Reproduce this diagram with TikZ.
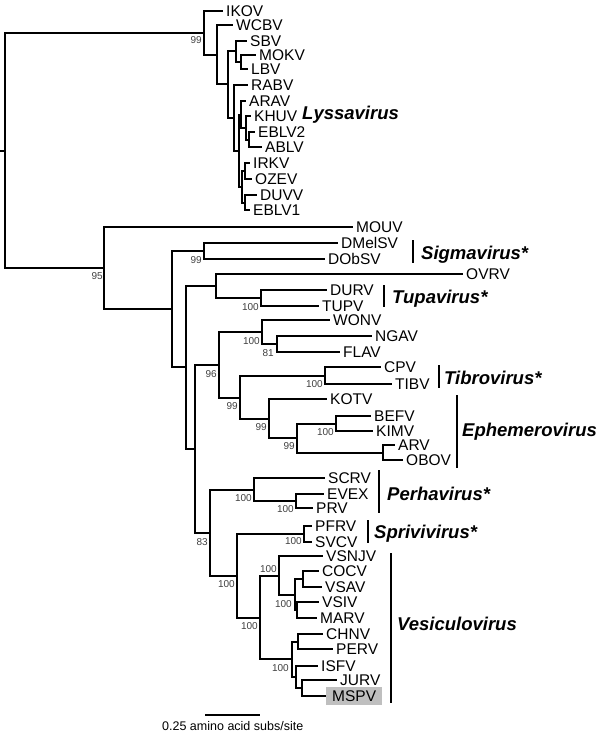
\documentclass[tikz,border=0pt]{standalone}
\usepackage{fontspec}
\setmainfont{Liberation Sans}
\begin{document}
\begin{tikzpicture}[x=1pt,y=-1pt,
  br/.style={line width=2pt},
  barline/.style={line width=2pt},
  leaf/.style={anchor=west, inner xsep=3pt, inner ysep=0pt, font=\fontsize{15.5}{15.5}\selectfont, text height=11.1pt, text depth=0pt},
  boot/.style={anchor=east, inner sep=0pt, font=\fontsize{10}{10}\selectfont, text=black!75, text height=7.2pt, text depth=0pt},
  genus/.style={anchor=west, inner sep=0pt, font=\fontsize{18.5}{18.5}\selectfont\bfseries\itshape, text height=13.2pt, text depth=0pt},
  scaletext/.style={anchor=west, inner sep=0pt, font=\fontsize{12.5}{12.5}\selectfont}
]
\useasboundingbox[fill=white] (0,0) rectangle (600,732);

% ---------- internal nodes ----------
\coordinate (rt) at (0,151);
\coordinate (R0) at (5,151);
% Lyssavirus
\coordinate (A) at (204,32.75);
\coordinate (B) at (217,54.5);
\coordinate (C) at (228,84);
\coordinate (E) at (236,50.5);
\coordinate (F) at (241,61.5);
\coordinate (D) at (234,118);
\coordinate (G) at (239,151);
\coordinate (H) at (241,114.5);
\coordinate (J) at (246,128);
\coordinate (K) at (249,139.5);
\coordinate (I) at (242,187);
\coordinate (L) at (245,171);
\coordinate (M) at (245,202.5);
% rest
\coordinate (N) at (104,268);
\coordinate (P) at (172,309);
\coordinate (SG) at (204,251);
\coordinate (Q) at (186,367);
\coordinate (T) at (216,286);
\coordinate (TU) at (261,298);
\coordinate (R) at (195,448.5);
\coordinate (S) at (219,365);
\coordinate (AH) at (262,332);
\coordinate (AI) at (277,344);
\coordinate (AJ) at (240,397.5);
\coordinate (AL) at (325,375.5);
\coordinate (AK) at (269,418.5);
\coordinate (AM) at (297,438);
\coordinate (AN) at (336,423.5);
\coordinate (AO) at (383,452.5);
\coordinate (U) at (210,532.5);
\coordinate (V) at (254,489.5);
\coordinate (X) at (296,501);
\coordinate (W) at (237,575.5);
\coordinate (SP) at (304,534);
\coordinate (Y) at (260,617.5);
\coordinate (Z) at (279,575.5);
\coordinate (AB) at (295,595);
\coordinate (AC) at (303,579);
\coordinate (AD) at (297,610);
\coordinate (AA) at (292,659);
\coordinate (AE) at (298,641.5);
\coordinate (AF) at (296,677);
\coordinate (AG) at (302,688);

% ---------- leaves ----------
\node[leaf] (IKOV) at (223,11) {IKOV};
\node[leaf] (WCBV) at (233,25) {WCBV};
\node[leaf] (SBV) at (247,40.5) {SBV};
\node[leaf] (MOKV) at (256,54.5) {MOKV};
\node[leaf] (LBV) at (248,69) {LBV};
\node[leaf] (RABV) at (248,85) {RABV};
\node[leaf] (ARAV) at (246,101) {ARAV};
\node[leaf] (KHUV) at (251,116) {KHUV};
\node[leaf] (EBLV2) at (255,132) {EBLV2};
\node[leaf] (ABLV) at (262,147) {ABLV};
\node[leaf] (IRKV) at (250,163) {IRKV};
\node[leaf] (OZEV) at (252,179) {OZEV};
\node[leaf] (DUVV) at (257,195) {DUVV};
\node[leaf] (EBLV1) at (250,210) {EBLV1};

\node[leaf] (MOUV) at (353,227) {MOUV};
\node[leaf] (DMelSV) at (338,243) {DMelSV};
\node[leaf] (DObSV) at (325,259) {DObSV};
\node[leaf] (OVRV) at (463,274) {OVRV};
\node[leaf] (DURV) at (327,290) {DURV};
\node[leaf] (TUPV) at (319,306) {TUPV};
\node[leaf] (WONV) at (330,320) {WONV};
\node[leaf] (NGAV) at (372,336) {NGAV};
\node[leaf] (FLAV) at (340,352) {FLAV};
\node[leaf] (CPV) at (381,367) {CPV};
\node[leaf] (TIBV) at (392,384) {TIBV};
\node[leaf] (KOTV) at (327,399) {KOTV};
\node[leaf] (BEFV) at (371,416) {BEFV};
\node[leaf] (KIMV) at (373,431) {KIMV};
\node[leaf] (ARV) at (395,445) {ARV};
\node[leaf] (OBOV) at (403,460) {OBOV};
\node[leaf] (SCRV) at (325,478) {SCRV};
\node[leaf] (EVEX) at (324,494) {EVEX};
\node[leaf] (PRV) at (313,508) {PRV};
\node[leaf] (PFRV) at (312,526) {PFRV};
\node[leaf] (SVCV) at (312,542) {SVCV};
\node[leaf] (VSNJV) at (323,556) {VSNJV};
\node[leaf] (COCV) at (319,571) {COCV};
\node[leaf] (VSAV) at (322,587) {VSAV};
\node[leaf] (VSIV) at (319,602) {VSIV};
\node[leaf] (MARV) at (317,618) {MARV};
\node[leaf] (CHNV) at (323,634) {CHNV};
\node[leaf] (PERV) at (333,649) {PERV};
\node[leaf] (ISFV) at (318,666) {ISFV};
\node[leaf] (JURV) at (337,680) {JURV};
\node[leaf, fill=black!25, inner xsep=6pt, inner ysep=3pt] (MSPV) at (326,696) {MSPV};

% ---------- branches ----------
\draw[br] (rt) -- (R0);
\foreach \p/\c in {R0/A, R0/N,
  A/IKOV.west, A/B, B/WCBV.west, B/C, C/E, C/D, E/SBV.west, E/F,
  F/MOKV.west, F/LBV.west, D/RABV.west, D/G, G/H, G/I, H/ARAV.west, H/J,
  J/KHUV.west, J/K, K/EBLV2.west, K/ABLV.west, I/L, I/M,
  L/IRKV.west, L/OZEV.west, M/DUVV.west, M/EBLV1.west,
  N/MOUV.west, N/P, P/SG, P/Q, SG/DMelSV.west, SG/DObSV.west,
  Q/T, Q/R, T/OVRV.west, T/TU, TU/DURV.west, TU/TUPV.west,
  R/S, R/U, S/AH, S/AJ, AH/WONV.west, AH/AI, AI/NGAV.west, AI/FLAV.west,
  AJ/AL, AJ/AK, AL/CPV.west, AL/TIBV.west, AK/KOTV.west, AK/AM,
  AM/AN, AM/AO, AN/BEFV.west, AN/KIMV.west, AO/ARV.west, AO/OBOV.west,
  U/V, U/W, V/SCRV.west, V/X, X/EVEX.west, X/PRV.west,
  W/SP, W/Y, SP/PFRV.west, SP/SVCV.west,
  Y/Z, Y/AA, Z/VSNJV.west, Z/AB, AB/AC, AB/AD,
  AC/COCV.west, AC/VSAV.west, AD/VSIV.west, AD/MARV.west,
  AA/AE, AA/AF, AE/CHNV.west, AE/PERV.west, AF/ISFV.west, AF/AG,
  AG/JURV.west, AG/MSPV.west}
  \draw[br] (\p) |- (\c);

% ---------- bootstrap values ----------
\node[boot] (bA) at (202,40) {99};
\node[boot] (bN) at (103,276) {95};
\node[boot] (bSG) at (202,260) {99};
\node[boot] (bTU) at (259,307) {100};
\node[boot] (bAH) at (260,341) {100};
\node[boot] (bAI) at (274,353) {81};
\node[boot] (bS) at (217,374) {96};
\node[boot] (bAL) at (323,384) {100};
\node[boot] (bAJ) at (238,406) {99};
\node[boot] (bAK) at (267,427) {99};
\node[boot] (bAN) at (334,432) {100};
\node[boot] (bAM) at (295,446) {99};
\node[boot] (bV) at (252,498) {100};
\node[boot] (bX) at (294,509) {100};
\node[boot] (bSP) at (302,541) {100};
\node[boot] (bU) at (208,542) {83};
\node[boot] (bZ) at (277,569) {100};
\node[boot] (bW) at (235,584) {100};
\node[boot] (bAB) at (292,604) {100};
\node[boot] (bY) at (258,626) {100};
\node[boot] (bAA) at (289,668) {100};

% ---------- genus labels and bars ----------
\node[genus] (gLys) at (302,113) {Lyssavirus};
\coordinate (sig1) at (413,240); \coordinate (sig2) at (413,263);
\draw[barline] (sig1) -- (sig2);
\node[genus] (gSig) at (421,253) {Sigmavirus*};
\coordinate (tup1) at (384,285); \coordinate (tup2) at (384,307);
\draw[barline] (tup1) -- (tup2);
\node[genus] (gTup) at (392,297) {Tupavirus*};
\coordinate (tib1) at (439,365); \coordinate (tib2) at (439,388);
\draw[barline] (tib1) -- (tib2);
\node[genus] (gTib) at (444,378) {Tibrovirus*};
\coordinate (eph1) at (457,395); \coordinate (eph2) at (457,468);
\draw[barline] (eph1) -- (eph2);
\node[genus] (gEph) at (462,430) {Ephemerovirus};
\coordinate (per1) at (379,470); \coordinate (per2) at (379,513);
\draw[barline] (per1) -- (per2);
\node[genus] (gPer) at (387,494) {Perhavirus*};
\coordinate (spr1) at (368,520); \coordinate (spr2) at (368,543);
\draw[barline] (spr1) -- (spr2);
\node[genus] (gSpr) at (374,532) {Sprivivirus*};
\coordinate (ves1) at (391,553); \coordinate (ves2) at (391,703);
\draw[barline] (ves1) -- (ves2);
\node[genus] (gVes) at (397,624) {Vesiculovirus};

% ---------- scale bar ----------
\coordinate (sc1) at (205,715); \coordinate (sc2) at (260,715);
\draw[line width=1.2pt] (sc1) -- (sc2);
\node[scaletext] (sct) at (162,726) {0.25 amino acid subs/site};
\end{tikzpicture}
\end{document}
